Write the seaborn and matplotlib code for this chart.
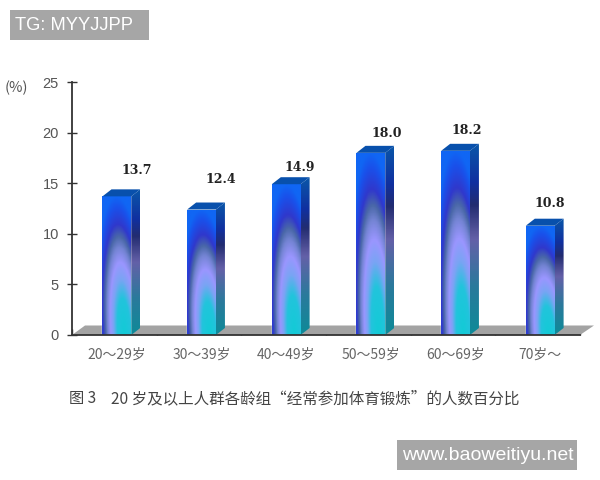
import numpy as np
import pandas as pd
import matplotlib
matplotlib.use('Agg')
import matplotlib.pyplot as plt
import seaborn as sns
from matplotlib.colors import LinearSegmentedColormap
from matplotlib.patches import Polygon, Rectangle

ages = ['20～29岁', '30～39岁', '40～49岁', '50～59岁', '60～69岁', '70岁～']
percent = [13.7, 12.4, 14.9, 18.0, 18.2, 10.8]
value_labels = ['13.7', '12.4', '14.9', '18.0', '18.2', '10.8']
y_ticks = [0, 5, 10, 15, 20, 25]

# label offsets from the bar top centre, in pixels
label_dx = [20, 19, 14, 16, 11, 10]
label_dy = [26, 30, 17, 19, 20, 22]

sns.set_style('white')
plt.rcParams['font.family'] = ['Noto Sans CJK SC', 'DejaVu Sans']

W, H = 600, 480
fig = plt.figure(figsize=(6, 4.8), dpi=100)
ax = fig.add_axes([72 / W, (H - 335) / H, (580 - 72) / W, (335 - 82) / H])

df = pd.DataFrame({'age': ages, 'percent': percent})
sns.barplot(data=df, x='age', y='percent', width=0.34, color='#1060f0', ax=ax, zorder=3)
bars = list(ax.patches)

ax.set_xlabel('')
ax.set_ylabel('')
px_x = 6 / (580 - 72)   # data units per pixel
px_y = 25 / (335 - 82)

# floor
ax.add_patch(Polygon([(-0.53, 0), (5.47, 0), (5.47 + 14 * px_x, 9.5 * px_y), (-0.53 + 13 * px_x, 9.5 * px_y)],
                     facecolor='#a3a3a3', edgecolor='none', clip_on=False, zorder=1))

front_cmap = LinearSegmentedColormap.from_list('front', [
    (0.00, '#12cbd6'), (0.26, '#22c4dc'), (0.40, '#7aa4f4'), (0.52, '#9a96ff'),
    (0.63, '#7484d4'), (0.71, '#4a68a8'), (0.80, '#3038cc'), (0.92, '#1a50ea'), (1.00, '#1066f4')])
side_cmap = LinearSegmentedColormap.from_list('side', [
    (0.00, '#0e8a98'), (0.25, '#2a7a9c'), (0.50, '#6460a8'), (0.68, '#222c70'),
    (0.80, '#1030a0'), (1.00, '#0a56a8')])

u, v = np.meshgrid(np.linspace(0, 1, 60), np.linspace(0, 1, 120))
r = np.sqrt(((u - (0.78 - 0.28 * v)) / 0.92) ** 2 + v ** 2)
r = np.clip(r, 0, 1)

depth_x = 9 * px_x
depth_y = 7 * px_y

for i, bar in enumerate(bars):
    x0, w, h = bar.get_x(), bar.get_width(), bar.get_height()
    # front face
    im = ax.imshow(r, extent=(x0, x0 + w, 0, h), origin='lower', aspect='auto',
                   cmap=front_cmap, vmin=0, vmax=1, zorder=4)
    im.set_clip_path(Rectangle((x0, 0), w, h, transform=ax.transData))
    # side face
    side = Polygon([(x0 + w, 0), (x0 + w + depth_x, depth_y), (x0 + w + depth_x, h + depth_y), (x0 + w, h)],
                   transform=ax.transData)
    im2 = ax.imshow(v, extent=(x0 + w, x0 + w + depth_x, 0, h + depth_y), origin='lower', aspect='auto',
                    cmap=side_cmap, vmin=0, vmax=1, zorder=4)
    im2.set_clip_path(side)
    # top face
    ax.add_patch(Polygon([(x0, h), (x0 + w, h), (x0 + w + depth_x, h + depth_y), (x0 + depth_x, h + depth_y)],
                         facecolor='#0850ac', edgecolor='none', zorder=4, clip_on=False))
    ax.text(x0 + w / 2 + label_dx[i] * px_x, h + label_dy[i] * px_y, value_labels[i],
            family='DejaVu Serif', weight='bold', fontsize=9, color='#222222',
            ha='center', va='center', zorder=6)

ax.set_xlim(-0.53, 5.47)
ax.set_ylim(0, 25)

# axes and ticks
sns.despine(ax=ax)
for s in ['left', 'bottom']:
    ax.spines[s].set_color('#333333')
    ax.spines[s].set_linewidth(1.3)
    ax.spines[s].set_zorder(5)

ax.set_yticks(y_ticks)
ax.set_yticklabels([str(t) for t in y_ticks], family='Liberation Sans', fontsize=10.5, color='#555555')
ax.tick_params(axis='y', direction='inout', length=7, width=1, color='#333333', pad=6, left=True)

ax.set_xticks(range(len(ages)))
ax.set_xticklabels(ages, fontsize=10, color='#666666')
ax.tick_params(axis='x', which='major', length=0, pad=9)
ax.set_xticks(np.arange(-0.53, 5.48, 1), minor=True)
ax.tick_params(axis='x', which='minor', direction='in', length=4, width=1, color='#333333', bottom=True)


# figure texts, positions in pixels
def ftext(x, y, s, **kw):
    return fig.text(x / W, 1 - y / H, s, **kw)


ftext(16, 88, '(%)', fontsize=10.5, color='#555555', ha='center', va='center')
ftext(69, 399, '图 3', fontsize=11, color='#444444', ha='left', va='center')
ftext(111, 399, '20 岁及以上人群各龄组“经常参加体育锻炼”的人数百分比', fontsize=11.2, color='#444444',
      ha='left', va='center')

# watermarks
fig.patches.append(Rectangle((10 / W, 1 - 40 / H), 139 / W, 30 / H, transform=fig.transFigure,
                             facecolor='#a6a6a6', edgecolor='none'))
fig.patches.append(Rectangle((397 / W, 1 - 470 / H), 180 / W, 30 / H, transform=fig.transFigure,
                             facecolor='#a6a6a6', edgecolor='none'))
ftext(15, 25, 'TG: MYYJJPP', family='Liberation Sans', fontsize=13.2, color='white', ha='left', va='center')
ftext(402, 455, 'www.baoweitiyu.net', family='Liberation Sans', fontsize=14, color='white', ha='left', va='center')

fig.savefig('out.png', dpi=100)
